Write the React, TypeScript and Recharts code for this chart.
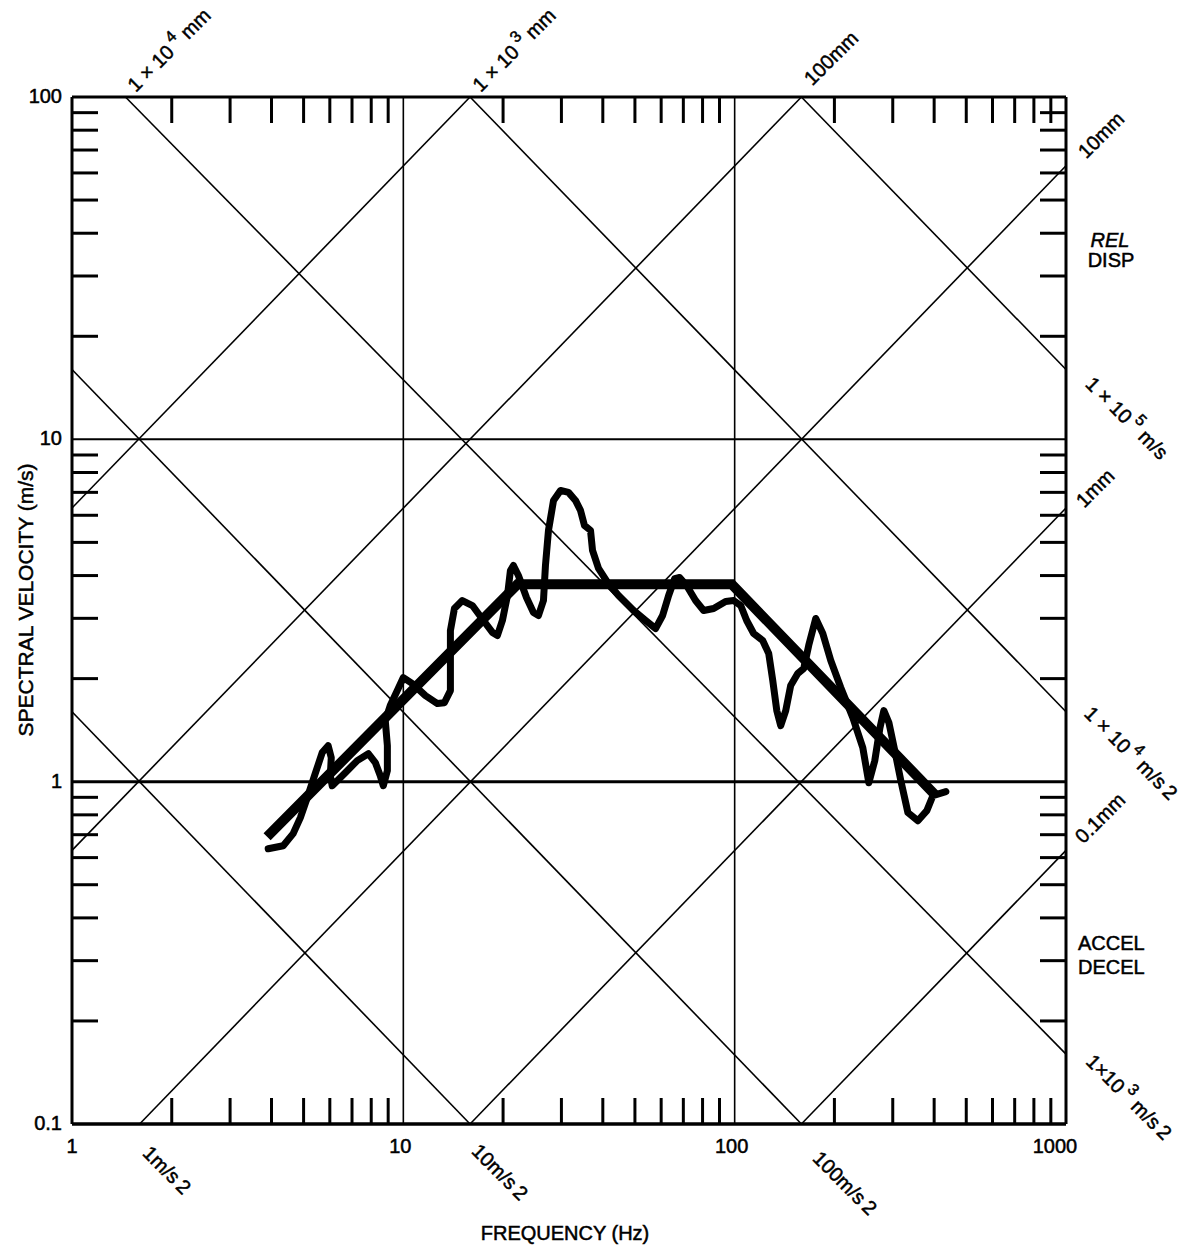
import React from 'react';
import { LineChart, Line, XAxis, YAxis, ReferenceLine, Customized } from 'recharts';

// ---------- axis ticks ----------
const FREQ_TICKS = [1, 2, 3, 4, 5, 6, 7, 8, 9, 10, 20, 30, 40, 50, 60, 70, 80, 90, 100, 200, 300, 400, 500, 600, 700, 800, 900, 1000];
const VEL_TICKS = [0.1, 0.2, 0.3, 0.4, 0.5, 0.6, 0.7, 0.8, 0.9, 1, 2, 3, 4, 5, 6, 7, 8, 9, 10, 20, 30, 40, 50, 60, 70, 80, 90, 100];
const FREQ_LABELS = [1, 10, 100, 1000];
const VEL_LABELS = [0.1, 1, 10, 100];

// ---------- measured spectrum (wiggly curve) ----------
const waveFreq = [3.91, 4.34, 4.65, 4.89, 5.13, 5.42, 5.69, 5.93, 6.06, 6.02, 6.10, 6.68, 7.26, 7.84, 8.23, 8.52, 8.70, 8.95, 8.95, 8.82, 9.13, 9.59, 10.0, 10.65, 11.66, 12.67, 13.3, 13.87, 13.87, 13.87, 14.26, 15.07, 16.16, 17.45, 18.57, 19.23, 19.91, 20.62, 21.05, 21.49, 22.25, 23.53, 24.70, 25.58, 26.48, 26.85, 27.42, 28.40, 29.81, 31.51, 33.08, 34.25, 35.22, 36.72, 37.24, 38.82, 41.33, 44.62, 49.54, 53.84, 57.71, 60.6, 63.2, 65.9, 68.2, 71.6, 76.2, 80.6, 86.4, 93.9, 99.3, 104.3, 108.7, 114.1, 121.5, 126.7, 130.3, 134.0, 137.7, 142.6, 147.6, 155.0, 161.6, 167.3, 175.7, 184.5, 195.0, 209.0, 227.3, 243.6, 254.0, 264.8, 274.2, 282.0, 292.0, 304.3, 317.3, 333.3, 357.3, 380.2, 396.5, 434.0];
const waveVel = [0.637, 0.650, 0.705, 0.785, 0.898, 1.055, 1.216, 1.274, 1.175, 1.041, 0.973, 1.062, 1.152, 1.207, 1.137, 1.041, 0.973, 1.077, 1.274, 1.508, 1.668, 1.845, 2.014, 1.934, 1.784, 1.691, 1.70, 1.845, 2.258, 2.764, 3.205, 3.382, 3.270, 2.957, 2.728, 2.673, 2.957, 3.499, 4.14, 4.28, 4.00, 3.451, 3.12, 3.058, 3.382, 4.28, 5.42, 6.63, 7.09, 7.00, 6.63, 6.20, 5.60, 5.42, 4.74, 4.20, 3.82, 3.499, 3.162, 2.957, 2.80, 3.058, 3.499, 3.92, 3.95, 3.74, 3.382, 3.162, 3.205, 3.36, 3.382, 3.27, 2.957, 2.709, 2.584, 2.367, 1.974, 1.613, 1.458, 1.613, 1.909, 2.07, 2.14, 2.50, 2.997, 2.709, 2.258, 1.883, 1.539, 1.257, 0.993, 1.152, 1.429, 1.613, 1.488, 1.232, 1.007, 0.812, 0.769, 0.823, 0.910, 0.935];

// ---------- design envelope (thick straight lines) ----------
const envFreq = [3.88, 22.1, 98, 405];
const envVel = [0.69, 3.77, 3.77, 0.91];

// ---------- tripartite grid: constant displacement (rising) ----------
const dispFrom = [[1, 6.3], [1, 0.63], [1.6, 0.1], [15.9, 0.1], [159, 0.1]];
const dispTo = [[15.9, 100], [159, 100], [1000, 63], [1000, 6.3], [1000, 0.63]];
// ---------- constant acceleration (falling) ----------
const accFrom = [[1, 1.6], [1, 16], [1.45, 100], [15.9, 100], [159, 100]];
const accTo = [[15.9, 0.1], [159, 0.1], [1000, 0.16], [1000, 1.6], [1000, 16]];

const waveData = waveFreq.map((f, i) => ({ f, v: waveVel[i] }));
const envData = envFreq.map((f, i) => ({ f, v: envVel[i] }));

const FONT = '"Liberation Sans", Arial, Helvetica, sans-serif';
const FS = 20;
const TXT = { fontFamily: FONT, fontSize: FS, fill: '#000', stroke: '#000', strokeWidth: 0.5 } as any;
const TICK_LEN = 26;
const near = (a: number, b: number) => Math.abs(a - b) < 1e-9;
const isMajorF = (v: number) => FREQ_LABELS.some((m) => near(m, v));
const isMajorV = (v: number) => VEL_LABELS.some((m) => near(m, v));

const BottomTick = (props: any) => {
  const { x, y, payload } = props;
  const v = payload.value;
  if (isMajorF(v)) {
    const off = v === 1000 ? 11 : v >= 10 ? 3 : 0;
    return (
      <text x={x - off} y={y + 29} textAnchor="middle" {...TXT}>
        {String(v)}
      </text>
    );
  }
  return <line x1={x} y1={y} x2={x} y2={y - TICK_LEN} stroke="#000" strokeWidth={3} />;
};

const TopTick = (props: any) => {
  const { x, y, payload } = props;
  if (isMajorF(payload.value)) return <g />;
  return <line x1={x} y1={y} x2={x} y2={y + TICK_LEN} stroke="#000" strokeWidth={3} />;
};

const LeftTick = (props: any) => {
  const { x, y, payload } = props;
  const v = payload.value;
  if (isMajorV(v)) {
    return (
      <text x={x - 10} y={y + 6} textAnchor="end" {...TXT}>
        {String(v)}
      </text>
    );
  }
  return <line x1={x} y1={y} x2={x + TICK_LEN} y2={y} stroke="#000" strokeWidth={3} />;
};

const RightTick = (props: any) => {
  const { x, y, payload } = props;
  if (isMajorV(payload.value)) return <g />;
  return <line x1={x} y1={y} x2={x - TICK_LEN} y2={y} stroke="#000" strokeWidth={3} />;
};

const Rot = ({ x, y, a, children }: any) => (
  <text
    transform={`translate(${x},${y}) rotate(${a})`}
    textAnchor="middle"
    dominantBaseline="central"
    {...TXT}
  >
    {children}
  </text>
);

const Sup = ({ c }: any) => (
  <>
    <tspan dy={-9} fontSize={16} dx={4}>{c}</tspan>
    <tspan dy={9}> </tspan>
  </>
);

const Annotations = () => (
  <g>
    {/* top displacement labels */}
    <Rot x={169} y={50} a={-45}>1 × 10<Sup c="4" />mm</Rot>
    <Rot x={514} y={50} a={-45}>1 × 10<Sup c="3" />mm</Rot>
    <Rot x={831} y={58} a={-45}>100mm</Rot>
    {/* right side labels */}
    <Rot x={1101} y={135} a={-45}>10mm</Rot>
    <text x={1110} y={247} textAnchor="middle" fontStyle="italic" {...TXT}>REL</text>
    <text x={1111} y={267} textAnchor="middle" {...TXT}>DISP</text>
    <Rot x={1127} y={418} a={45}>1 × 10<Sup c="5" />m/s</Rot>
    <Rot x={1095} y={488} a={-45}>1mm</Rot>
    <Rot x={1131} y={753} a={45}>1 × 10<Sup c="4" />m/s<tspan dx={4}>2</tspan></Rot>
    <Rot x={1100} y={818} a={-45}>0.1mm</Rot>
    <text x={1078} y={950} {...TXT}>ACCEL</text>
    <text x={1078} y={974} {...TXT}>DECEL</text>
    <Rot x={1129} y={1097} a={45}>1×10<Sup c="3" />m/s<tspan dx={4}>2</tspan></Rot>
    {/* bottom acceleration labels */}
    <Rot x={167} y={1170} a={45}>1m/s<tspan dx={4}>2</tspan></Rot>
    <Rot x={500} y={1172} a={45}>10m/s<tspan dx={4}>2</tspan></Rot>
    <Rot x={845} y={1183} a={45}>100m/s<tspan dx={4}>2</tspan></Rot>
    {/* axis titles */}
    <text transform="translate(33,600) rotate(-90)" textAnchor="middle" {...TXT} fontSize={21}>
      SPECTRAL VELOCITY (m/s)
    </text>
    <text x={565} y={1240} textAnchor="middle" {...TXT}>
      FREQUENCY (Hz)
    </text>
  </g>
);

export default function App() {
  return (
    <div style={{ width: 1189, height: 1245, background: '#fff' }}>
      <style>{`html,body{margin:0;padding:0;overflow:hidden;background:#fff}`}</style>
      <LineChart width={1189} height={1245} margin={{ top: 67, right: 63, bottom: 91, left: 12 }}>
        <XAxis
          xAxisId="x"
          dataKey="f"
          type="number"
          scale="log"
          domain={[1, 1000]}
          allowDataOverflow
          ticks={FREQ_TICKS}
          interval={0}
          tickSize={0}
          tickMargin={0}
          tickLine={false}
          tick={<BottomTick />}
          axisLine={{ stroke: '#000', strokeWidth: 3.5 }}
          height={30}
        />
        <XAxis
          xAxisId="xt"
          orientation="top"
          dataKey="f"
          type="number"
          scale="log"
          domain={[1, 1000]}
          allowDataOverflow
          ticks={FREQ_TICKS}
          interval={0}
          tickSize={0}
          tickMargin={0}
          tickLine={false}
          tick={<TopTick />}
          axisLine={{ stroke: '#000', strokeWidth: 3 }}
          height={30}
        />
        <YAxis
          yAxisId="y"
          dataKey="v"
          type="number"
          scale="log"
          domain={[0.1, 100]}
          allowDataOverflow
          ticks={VEL_TICKS}
          interval={0}
          tickSize={0}
          tickMargin={0}
          tickLine={false}
          tick={<LeftTick />}
          axisLine={{ stroke: '#000', strokeWidth: 3 }}
          width={60}
        />
        <YAxis
          yAxisId="yr"
          orientation="right"
          type="number"
          scale="log"
          domain={[0.1, 100]}
          allowDataOverflow
          ticks={VEL_TICKS}
          interval={0}
          tickSize={0}
          tickMargin={0}
          tickLine={false}
          tick={<RightTick />}
          axisLine={{ stroke: '#000', strokeWidth: 3 }}
          width={60}
        />

        <ReferenceLine xAxisId="x" yAxisId="y" x={10} stroke="#000" strokeWidth={1.6} />
        <ReferenceLine xAxisId="x" yAxisId="y" x={100} stroke="#000" strokeWidth={1.6} />
        <ReferenceLine xAxisId="x" yAxisId="y" y={10} stroke="#000" strokeWidth={2} />
        <ReferenceLine xAxisId="x" yAxisId="y" y={1} stroke="#000" strokeWidth={3} />

        {dispFrom.map((p, i) => (
          <ReferenceLine
            key={'d' + i}
            xAxisId="x"
            yAxisId="y"
            ifOverflow="visible"
            segment={[{ x: p[0], y: p[1] }, { x: dispTo[i][0], y: dispTo[i][1] }]}
            stroke="#000"
            strokeWidth={1.6}
          />
        ))}
        {accFrom.map((p, i) => (
          <ReferenceLine
            key={'a' + i}
            xAxisId="x"
            yAxisId="y"
            ifOverflow="visible"
            segment={[{ x: p[0], y: p[1] }, { x: accTo[i][0], y: accTo[i][1] }]}
            stroke="#000"
            strokeWidth={1.6}
          />
        ))}

        <Line
          xAxisId="x"
          yAxisId="y"
          data={waveData}
          dataKey="v"
          type="linear"
          stroke="#000"
          strokeWidth={7}
          strokeLinejoin="round"
          strokeLinecap="round"
          dot={false}
          activeDot={false}
          isAnimationActive={false}
        />
        <Line
          xAxisId="x"
          yAxisId="y"
          data={envData}
          dataKey="v"
          type="linear"
          stroke="#000"
          strokeWidth={10}
          strokeLinejoin="miter"
          dot={false}
          activeDot={false}
          isAnimationActive={false}
        />
        <Customized component={Annotations} />
      </LineChart>
    </div>
  );
}
